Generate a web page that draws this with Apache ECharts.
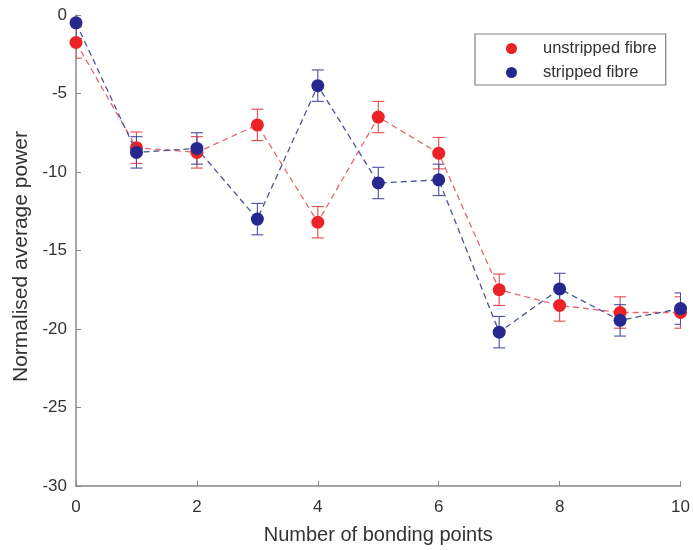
<!DOCTYPE html>
<html>
<head>
<meta charset="utf-8">
<script src="https://cdn.jsdelivr.net/npm/echarts@6/dist/echarts.min.js"></script>
<style>html,body{margin:0;padding:0;background:#fff}#c{width:693px;height:550px}</style>
</head>
<body>
<div id="c"></div>
<script>
var bondingPoints = [0, 1, 2, 3, 4, 5, 6, 7, 8, 9, 10];
var unstripped = [-1.75, -8.45, -8.75, -7.0, -13.2, -6.5, -8.8, -17.5, -18.5, -18.95, -18.95];
var unstrippedErr = [1, 1, 1, 1, 1, 1, 1, 1, 1, 1, 1];
var stripped = [-0.5, -8.75, -8.5, -13.0, -4.5, -10.7, -10.5, -20.2, -17.45, -19.45, -18.7];
var strippedErr = [1, 1, 1, 1, 1, 1, 1, 1, 1, 1, 1];
var yTicks = { min: -30, max: 0, interval: 5 };
var xTicks = { min: 0, max: 10, interval: 2 };
var names = ['unstripped fibre', 'stripped fibre'];

function pairs(xs, ys) { return xs.map(function (x, i) { return [x, ys[i]]; }); }
function errData(xs, ys, es) { return xs.map(function (x, i) { return [x, ys[i], es[i]]; }); }

function errRender(color) {
  return function (params, api) {
    var x = api.value(0), y = api.value(1), e = api.value(2);
    var top = api.coord([x, y + e]);
    var bot = api.coord([x, y - e]);
    var w = 6;
    var st = { stroke: color, lineWidth: 1.1 };
    return {
      type: 'group',
      children: [
        { type: 'line', shape: { x1: top[0], y1: top[1], x2: bot[0], y2: bot[1] }, style: st },
        { type: 'line', shape: { x1: top[0] - w, y1: top[1], x2: top[0] + w, y2: top[1] }, style: st },
        { type: 'line', shape: { x1: bot[0] - w, y1: bot[1], x2: bot[0] + w, y2: bot[1] }, style: st }
      ]
    };
  };
}

var red = '#ec2227', blue = '#27288f';
var font = 'Liberation Sans, Arial, Helvetica, sans-serif';
var chart = echarts.init(document.getElementById('c'), null, { renderer: 'canvas' });
chart.setOption({
  animation: false,
  backgroundColor: '#fff',
  textStyle: { fontFamily: font },
  grid: { left: 76, right: 11, top: 15, bottom: 59, containLabel: false },
  legend: {
    data: [{ name: names[0], icon: 'circle' }, { name: names[1], icon: 'circle' }],
    orient: 'vertical',
    left: 475, top: 34,
    itemWidth: 11, itemHeight: 11, itemGap: 7,
    padding: [6, 9, 4, 31],
    borderColor: '#808080', borderWidth: 1.2, borderRadius: 0,
    backgroundColor: '#fff',
    textStyle: { fontSize: 16.5, lineHeight: 17, color: '#333', fontFamily: font, padding: [0, 0, 0, 21] }
  },
  xAxis: {
    type: 'value', min: xTicks.min, max: xTicks.max, interval: xTicks.interval,
    name: 'Number of bonding points', nameLocation: 'middle', nameGap: 39,
    nameTextStyle: { fontSize: 20, color: '#333', fontFamily: font },
    axisLine: { show: true, onZero: false, lineStyle: { color: '#888', width: 1.5 } },
    axisTick: { show: true, inside: true, length: 5, lineStyle: { color: '#888' } },
    axisLabel: { fontSize: 17, color: '#333', margin: 13, fontFamily: font },
    splitLine: { show: false }
  },
  yAxis: {
    type: 'value', min: yTicks.min, max: yTicks.max, interval: yTicks.interval,
    name: 'Normalised average power', nameLocation: 'middle', nameGap: 44, nameRotate: 90,
    nameTextStyle: { fontSize: 21, color: '#333', fontFamily: font, padding: [0, 12, 0, 0] },
    axisLine: { show: true, onZero: false, lineStyle: { color: '#888', width: 1.5 } },
    axisTick: { show: true, inside: true, length: 5, lineStyle: { color: '#888' } },
    axisLabel: { fontSize: 17, color: '#333', margin: 9, fontFamily: font },
    splitLine: { show: false }
  },
  series: [
    { type: 'custom', name: 'errU', clip: true, z: 2, renderItem: errRender('#e8474b'),
      data: errData(bondingPoints, unstripped, unstrippedErr), silent: true },
    { type: 'custom', name: 'errS', clip: true, z: 2, renderItem: errRender('#4a4c9f'),
      data: errData(bondingPoints, stripped, strippedErr), silent: true },
    { type: 'line', name: names[0], data: pairs(bondingPoints, unstripped), z: 3,
      symbol: 'circle', symbolSize: 13, showSymbol: true,
      itemStyle: { color: red, opacity: 1 },
      lineStyle: { color: '#e8676b', width: 1.3, type: [6, 4] } },
    { type: 'line', name: names[1], data: pairs(bondingPoints, stripped), z: 4,
      symbol: 'circle', symbolSize: 13, showSymbol: true,
      itemStyle: { color: blue, opacity: 1 },
      lineStyle: { color: '#4a5496', width: 1.3, type: [6, 4] } }
  ]
});
</script>
</body>
</html>
